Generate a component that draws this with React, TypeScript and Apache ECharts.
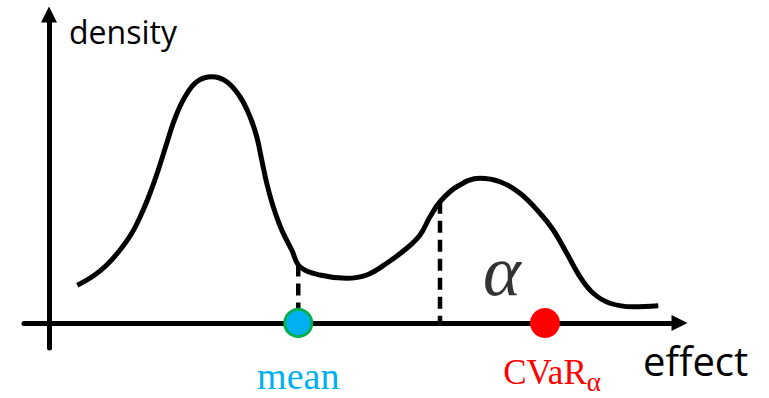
import React, { useEffect, useRef } from 'react';
import * as echarts from 'echarts';

// Density curve (effect units on x, density units on y)
const curveEffect = [1.13, 1.77, 2.31, 2.84, 3.31, 3.71, 4.04, 4.37, 4.71, 5.04, 5.44, 5.91, 6.51, 7.11, 7.64, 8.04, 8.31, 8.51, 8.71, 8.97, 9.31, 9.71, 10.04, 10.84, 11.91, 12.71, 13.51, 14.31, 14.84, 15.24, 15.64, 16.31, 17.24, 18.04, 18.84, 19.64, 20.17, 20.71, 21.24, 21.77, 22.44, 23.37, 24.37];
const curveDensity = [1.51, 1.88, 2.32, 2.92, 3.59, 4.39, 5.19, 6.12, 7.19, 8.19, 9.05, 9.65, 9.85, 9.65, 9.05, 8.25, 7.45, 6.52, 5.59, 4.65, 3.72, 2.92, 2.25, 1.92, 1.79, 1.92, 2.39, 2.99, 3.52, 4.25, 4.85, 5.45, 5.79, 5.65, 5.19, 4.39, 3.72, 2.79, 1.85, 1.19, 0.79, 0.65, 0.69];

// Marked quantities
const meanEffect = 9.97;
const meanDensity = 2.34;
const quantileEffect = 15.64;
const quantileDensity = 4.85;
const cvarEffect = 19.84;
const alphaPos = [18.12, 2.1];

// Axis ranges
const xRange = [-1, 25.22];
const yRange = [-1, 12.34];

const axisNames = { x: 'effect', y: 'density' };
const pointLabels = { mean: 'mean', cvar: 'CVaR', sub: 'α', alpha: 'α' };

export default function App() {
  const ref = useRef<HTMLDivElement>(null);

  useEffect(() => {
    if (!ref.current) return;
    const chart = echarts.init(ref.current, null, { renderer: 'svg' });
    const axisLine = {
      show: true,
      onZero: true,
      symbol: ['none', 'triangle'],
      symbolSize: [16, 16],
      lineStyle: { color: '#000', width: 5 },
    };
    chart.setOption({
      animation: false,
      backgroundColor: '#fff',
      grid: { left: 24, top: 14.5, width: 655.5, height: 333.5 },
      xAxis: {
        type: 'value',
        min: xRange[0],
        max: xRange[1],
        axisLine,
        axisTick: { show: false },
        axisLabel: { show: false },
        splitLine: { show: false },
        name: axisNames.x,
        nameLocation: 'end',
        nameGap: -36.5,
        nameTextStyle: {
          fontFamily: 'Open Sans',
          fontSize: 40,
          color: '#000',
          align: 'left',
          verticalAlign: 'top',
          padding: [17, 0, 0, 0],
        },
      },
      yAxis: {
        type: 'value',
        min: yRange[0],
        max: yRange[1],
        axisLine,
        axisTick: { show: false },
        axisLabel: { show: false },
        splitLine: { show: false },
        name: axisNames.y,
        nameLocation: 'end',
        nameGap: -1,
        nameTextStyle: {
          fontFamily: 'Open Sans',
          fontSize: 32,
          color: '#000',
          align: 'left',
          verticalAlign: 'top',
          padding: [0, 0, 0, 20],
        },
      },
      series: [
        {
          type: 'line',
          data: curveEffect.map((x, i) => [x, curveDensity[i]]),
          smooth: 0.4,
          showSymbol: false,
          lineStyle: { color: '#000', width: 5 },
          z: 3,
        },
        {
          type: 'line',
          data: [[meanEffect, meanDensity], [meanEffect, 0]],
          showSymbol: false,
          lineStyle: { color: '#000', width: 4.5, type: [12, 7] },
          z: 2,
        },
        {
          type: 'line',
          data: [[quantileEffect, quantileDensity], [quantileEffect, 0]],
          showSymbol: false,
          lineStyle: { color: '#000', width: 4.5, type: [12, 7] },
          z: 2,
        },
        {
          type: 'scatter',
          z: 5,
          data: [
            {
              value: [meanEffect, 0],
              symbolSize: 27,
              itemStyle: { color: '#00B0F0', borderColor: '#00B050', borderWidth: 3, opacity: 1 },
              label: {
                show: true,
                position: 'bottom',
                distance: 19,
                formatter: pointLabels.mean,
                fontFamily: 'Liberation Serif',
                fontSize: 38,
                lineHeight: 38,
                color: '#00B0F0',
              },
            },
            {
              value: [cvarEffect, 0],
              symbolSize: 30,
              itemStyle: { color: '#FF0000', opacity: 1 },
              label: {
                show: true,
                position: 'bottom',
                distance: 17,
                offset: [7, 0],
                formatter: '{m|' + pointLabels.cvar + '}{s|' + pointLabels.sub + '}',
                rich: {
                  m: { fontFamily: 'Liberation Serif', fontSize: 35, color: '#FF0000', verticalAlign: 'top', lineHeight: 34 },
                  s: { fontFamily: 'Liberation Serif', fontSize: 27, color: '#FF0000', verticalAlign: 'top', lineHeight: 26, padding: [13, 0, 0, 0] },
                },
              },
            },
          ],
        },
        {
          type: 'scatter',
          z: 4,
          symbolSize: 0,
          data: [alphaPos],
          label: {
            show: true,
            position: 'inside',
            formatter: pointLabels.alpha,
            fontFamily: 'Liberation Serif',
            fontStyle: 'italic',
            fontSize: 72,
            color: '#000',
          },
        },
      ],
    });
    return () => chart.dispose();
  }, []);

  return <div ref={ref} style={{ position: 'fixed', left: 0, top: 0, width: 769, height: 398 }} />;
}
